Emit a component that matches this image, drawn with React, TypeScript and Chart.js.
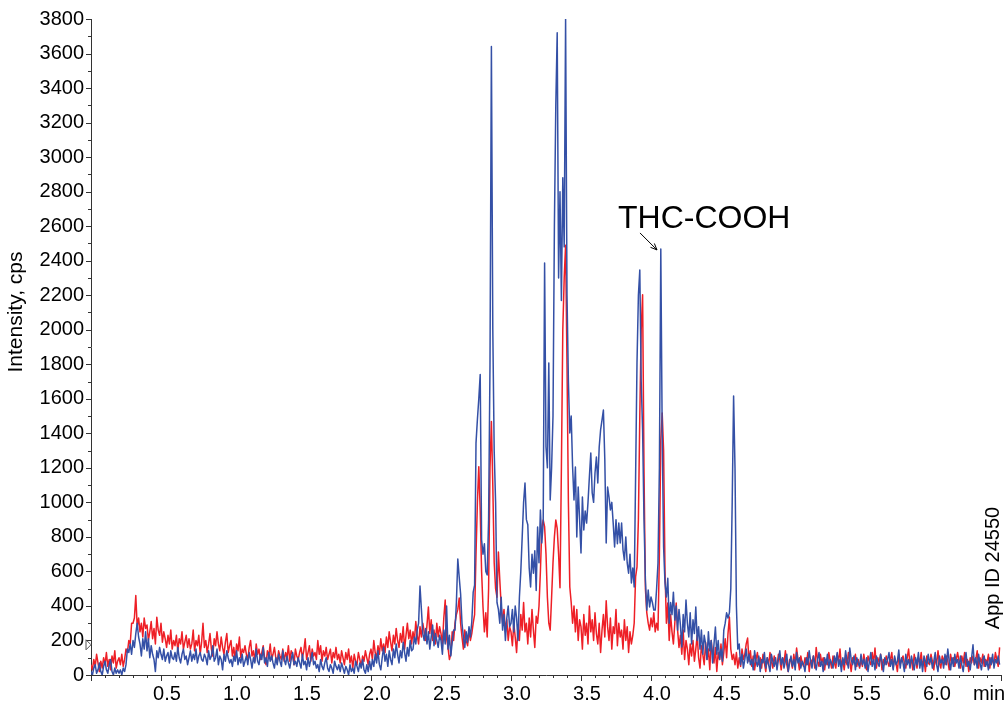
import React, { useEffect, useRef } from "react";
import { Chart, registerables } from "chart.js";

Chart.register(...registerables);

// retention time axis: first sample time and sampling interval (min)
const TIME_START = 0;
const TIME_STEP = 0.01;

const X_MIN = 0;
const X_MAX = 6.5;
const Y_MIN = 0;
const Y_MAX = 3800;

const X_TICK_LABELS = ["0.5", "1.0", "1.5", "2.0", "2.5", "3.0", "3.5", "4.0", "4.5", "5.0", "5.5", "6.0"];
const Y_TICK_LABELS = ["0", "200", "400", "600", "800", "1000", "1200", "1400", "1600", "1800", "2000", "2200", "2400", "2600", "2800", "3000", "3200", "3400", "3600", "3800"];

const Y_TITLE = "Intensity, cps";
const X_UNIT = "min";
const PEAK_LABEL = "THC-COOH";
const PEAK_TIME = 4.05;
const PEAK_VALUE = 2468;
const SIDE_NOTE = "App ID 24550";

// blue trace, one value every 0.01 min from 0.00 to 6.49
const blueIntensity = [
  20, 0, 40, 60, 10, 30, 70, 20, 0, 50,
  80, 30, 10, 60, 90, 20, 0, 40, 10, 30,
  10, 30, 0, 40, 20, 60, 150, 130, 180, 120,
  200, 160, 240, 300, 220, 180, 110, 210, 150, 250,
  140, 210, 100, 170, 120, 90, 20, 140, 100, 160,
  120, 90, 150, 80, 110, 130, 70, 140, 100, 90,
  130, 80, 160, 100, 70, 120, 150, 90, 110, 60,
  100, 140, 80, 120, 90, 150, 70, 110, 130, 90,
  80, 120, 100, 60, 140, 90, 110, 170, 80, 100,
  150, 60, 110, 90, 30, 120, 80, 140, 100, 70,
  90, 50, 110, 80, 140, 60, 100, 70, 120, 50,
  80, 110, 60, 130, 90, 40, 100, 70, 150, 80,
  60, 120, 90, 160, 70, 100, 50, 130, 80, 110,
  70, 40, 100, 60, 120, 80, 50, 140, 90, 60,
  110, 70, 40, 90, 130, 60, 80, 50, 100, 70,
  40, 120, 60, 80, 30, 100, 50, 90, 130, 60,
  80, 40, 60, 20, 90, 50, 30, 70, 100, 40,
  20, 60, 40, 10, 80, 50, 30, 60, 20, 70,
  40, 10, 50, 30, 0, 60, 20, 40, 10, 80,
  50, 20, 70, 40, 90, 30, 10, 60, 20, 80,
  30, 90, 50, 120, 70, 140, 60, 30, 100, 160,
  80, 120, 50, 140, 90, 60, 150, 100, 180, 120,
  70, 140, 100, 190, 130, 80, 160, 110, 200, 140,
  150, 220, 180, 260, 300, 516, 380, 240, 200, 270,
  180, 250, 150, 220, 290, 170, 240, 200, 160, 230,
  200, 120, 260, 180, 400, 150, 230, 110, 190, 260,
  260, 420, 672, 568, 470, 300, 220, 160, 250, 190,
  280, 220, 310, 480, 520, 1343, 1480, 1600, 1740, 782,
  700, 760, 600, 580, 900, 1800, 3640, 2000, 1294, 1000,
  420, 380, 300, 450, 260, 350, 200, 330, 400, 280,
  300, 380, 250, 400, 330, 200, 450, 600, 800, 1000,
  1112, 900, 870, 620, 510, 700, 590, 720, 490, 857,
  650, 956, 765, 880, 2387, 1321, 1200, 1808, 1014, 1200,
  1500, 2600, 3300, 3720, 2300, 2800, 2170, 2880, 2480, 3800,
  2200, 1700, 1402, 1500, 1205, 1014, 1205, 800, 1089, 900,
  707, 1031, 840, 950, 880, 1000, 1150, 1286, 1055, 1000,
  1170, 1263, 1112, 1321, 1420, 1477, 1535, 1250, 765, 1089,
  1031, 956, 1000, 880, 742, 900, 760, 880, 765, 880,
  724, 666, 800, 649, 590, 700, 533, 620, 510, 1147,
  1808, 2200, 2346, 1700, 1420, 900, 550, 376, 492, 394,
  452, 420, 376, 376, 500, 649, 1200, 2468, 1400, 742,
  533, 452, 560, 300, 420, 350, 480, 318, 400, 260,
  380, 290, 162, 350, 250, 434, 300, 220, 360, 180,
  320, 240, 394, 200, 280, 150, 260, 120, 230, 180,
  90, 250, 140, 200, 70, 180, 278, 120, 200, 90,
  150, 80, 260, 300, 360, 330, 360, 500, 1000, 1616,
  1200, 400, 150, 180, 60, 120, 40, 90, 150, 70,
  120, 60, 90, 30, 140, 80, 50, 110, 20, 90,
  70, 130, 40, 100, 60, 20, 120, 80, 50, 100,
  30, 90, 140, 60, 100, 40, 80, 120, 20, 70,
  110, 50, 90, 30, 130, 70, 100, 40, 80, 60,
  20, 100, 60, 140, 80, 40, 110, 70, 30, 90,
  130, 50, 80, 20, 100, 60, 120, 40, 90, 70,
  40, 110, 70, 130, 50, 90, 20, 100, 60, 140,
  80, 40, 156, 90, 60, 110, 30, 100, 70, 50,
  120, 60, 90, 40, 100, 20, 80, 130, 50, 90,
  30, 110, 70, 50, 120, 80, 20, 100, 60, 90,
  130, 50, 90, 30, 110, 60, 80, 145, 40, 100,
  70, 20, 120, 60, 90, 40, 110, 70, 30, 100,
  60, 130, 40, 90, 20, 110, 80, 50, 120, 70,
  100, 40, 80, 130, 60, 20, 110, 70, 90, 40,
  120, 60, 150, 80, 30, 100, 50, 120, 70, 90,
  40, 110, 60, 20, 90, 130, 50, 80, 30, 100,
  175, 60, 100, 40, 120, 70, 30, 90, 110, 50,
  80, 30, 100, 60, 120, 40, 90, 70, 110, 60,
];

// red trace, one value every 0.01 min from 0.00 to 6.49
const redIntensity = [
  60, 30, 90, 50, 120, 70, 20, 80, 40, 100,
  60, 130, 50, 90, 30, 110, 70, 140, 40, 80,
  100, 60, 120, 50, 90, 150, 130, 200, 180, 300,
  300, 330, 460, 280, 330, 250, 300, 220, 330, 270,
  290, 200, 250, 310, 210, 270, 180, 335, 260, 230,
  300, 190, 250, 210, 160, 230, 180, 260, 150, 200,
  170, 230, 140, 210, 180, 250, 150, 190, 230, 160,
  210, 150, 180, 260, 140, 200, 170, 230, 120, 190,
  300, 160, 200, 130, 180, 240, 150, 110, 210, 170,
  250, 180, 140, 220, 160, 120, 190, 240, 130, 170,
  200, 110, 160, 90, 180, 140, 220, 100, 150, 130,
  170, 120, 90, 160, 200, 110, 140, 80, 180, 120,
  150, 90, 130, 170, 100, 60, 140, 110, 180, 90,
  120, 160, 100, 70, 140, 110, 90, 150, 80, 130,
  100, 170, 80, 140, 120, 60, 150, 110, 90, 130,
  160, 100, 140, 210, 90, 130, 170, 80, 150, 110,
  130, 90, 200, 120, 170, 80, 140, 110, 160, 90,
  120, 150, 70, 130, 100, 160, 90, 120, 70, 140,
  100, 60, 130, 90, 150, 70, 110, 40, 120, 80,
  60, 130, 90, 50, 110, 80, 140, 100, 60, 120,
  150, 90, 200, 130, 100, 170, 120, 210, 140, 180,
  130, 220, 160, 250, 190, 140, 230, 180, 270, 200,
  160, 240, 190, 280, 150, 230, 300, 210, 260, 180,
  250, 200, 310, 230, 180, 280, 220, 300, 250, 200,
  290, 394, 240, 320, 200, 260, 180, 300, 220, 280,
  240, 180, 330, 434, 210, 160, 90, 120, 250, 200,
  300, 350, 380, 446, 300, 220, 150, 260, 200, 170,
  260, 200, 240, 300, 350, 700, 1000, 1207, 955, 600,
  394, 250, 360, 220, 500, 1200, 1468, 1100, 650, 500,
  450, 712, 550, 400, 300, 380, 250, 320, 200, 280,
  250, 170, 300, 220, 130, 280, 200, 350, 260, 420,
  250, 300, 180, 330, 220, 380, 260, 160, 340, 300,
  400, 600, 850, 898, 860, 700, 450, 300, 260, 450,
  650, 800, 898, 850, 700, 505, 1200, 2000, 2300, 2490,
  1800, 1000, 510, 420, 300, 400, 250, 380, 200, 320,
  280, 150, 350, 230, 300, 180, 400, 250, 320, 200,
  360, 240, 180, 300, 130, 260, 350, 220, 430, 280,
  200, 330, 150, 280, 240, 380, 170, 300, 220, 260,
  150, 320, 200, 280, 130, 250, 180, 230, 300, 568,
  626, 900, 1500, 2000, 2202, 1188, 500, 360, 300, 260,
  330, 280, 360, 250, 300, 260, 700, 1362, 1518, 1300,
  600, 300, 417, 200, 350, 250, 180, 300, 417, 260,
  160, 230, 120, 260, 90, 200, 150, 60, 180, 110,
  200, 80, 150, 230, 100, 40, 170, 120, 60, 190,
  90, 150, 30, 200, 120, 70, 160, 20, 130, 90,
  180, 60, 130, 210, 100, 240, 336, 150, 90, 120,
  60, 130, 40, 100, 50, 150, 90, 120, 180, 214,
  80, 140, 50, 110, 30, 90, 130, 60, 100, 40,
  120, 70, 20, 100, 60, 130, 80, 40, 110, 70,
  50, 120, 90, 30, 100, 70, 140, 60, 20, 90,
  80, 40, 120, 60, 156, 90, 30, 110, 70, 50,
  100, 60, 130, 20, 90, 70, 110, 40, 160, 80,
  50, 120, 70, 100, 30, 90, 60, 130, 80, 40,
  110, 70, 40, 120, 80, 150, 50, 90, 30, 100,
  60, 130, 80, 20, 100, 70, 120, 50, 90, 40,
  90, 50, 120, 70, 30, 110, 80, 60, 130, 70,
  156, 40, 100, 70, 120, 30, 90, 60, 110, 80,
  50, 90, 130, 40, 100, 70, 20, 120, 60, 90,
  110, 70, 40, 100, 150, 60, 90, 30, 120, 80,
  40, 100, 70, 130, 50, 90, 20, 110, 70, 60,
  120, 80, 30, 100, 60, 140, 70, 40, 110, 90,
  60, 110, 80, 30, 120, 70, 100, 50, 90, 130,
  80, 40, 110, 70, 130, 50, 90, 20, 100, 70,
  110, 60, 90, 140, 40, 100, 70, 120, 50, 90,
  70, 120, 40, 100, 80, 60, 130, 90, 50, 160,
];

const BLUE = "#3450a6";
const RED = "#ee1f26";
const FONT = "'Liberation Sans', Arial, Helvetica, sans-serif";

function toPoints(values: number[]) {
  return values.map((v, i) => ({ x: +(TIME_START + i * TIME_STEP).toFixed(2), y: v }));
}

const decorPlugin = {
  id: "decor",
  afterDraw(chart: any) {
    const ctx = chart.ctx;
    const xs = chart.scales.x;
    const ys = chart.scales.y;
    const area = chart.chartArea;
    ctx.save();
    // tick marks
    ctx.strokeStyle = "#333";
    ctx.lineWidth = 1;
    ctx.beginPath();
    for (let i = 0; i <= Math.round((Y_MAX - Y_MIN) / 100); i++) {
      const v = Y_MIN + i * 100;
      const py = Math.round(ys.getPixelForValue(v)) + 0.5;
      const len = v % 200 === 0 ? 5 : 3;
      ctx.moveTo(area.left - len, py);
      ctx.lineTo(area.left, py);
    }
    for (let i = 0; i <= Math.round((X_MAX - X_MIN) * 10); i++) {
      const v = X_MIN + i * 0.1;
      const px = Math.round(xs.getPixelForValue(v)) + 0.5;
      const len = i % 5 === 0 ? 6 : 3;
      ctx.moveTo(px, area.bottom);
      ctx.lineTo(px, area.bottom + len);
    }
    ctx.stroke();

    // small marker at the left axis
    const my = ys.getPixelForValue(175);
    ctx.strokeStyle = "#555";
    ctx.beginPath();
    ctx.moveTo(area.left - 5, my - 5);
    ctx.lineTo(area.left, my);
    ctx.lineTo(area.left - 5, my + 5);
    ctx.closePath();
    ctx.stroke();

    ctx.fillStyle = "#000";
    // y title
    ctx.save();
    ctx.translate(16, 312);
    ctx.rotate(-Math.PI / 2);
    ctx.font = `21px ${FONT}`;
    ctx.textAlign = "center";
    ctx.textBaseline = "middle";
    ctx.fillText(Y_TITLE, 0, 0);
    ctx.restore();

    // side note
    ctx.save();
    ctx.translate(993, 568);
    ctx.rotate(-Math.PI / 2);
    ctx.font = `20px ${FONT}`;
    ctx.textAlign = "center";
    ctx.textBaseline = "middle";
    ctx.fillText(SIDE_NOTE, 0, 0);
    ctx.restore();

    // unit
    ctx.font = `20px ${FONT}`;
    ctx.textAlign = "center";
    ctx.textBaseline = "middle";
    ctx.fillText(X_UNIT, 989, 694);

    // peak annotation
    const tipX = xs.getPixelForValue(PEAK_TIME) - 1;
    const tipY = ys.getPixelForValue(PEAK_VALUE) + 1;
    ctx.font = `32px ${FONT}`;
    ctx.textAlign = "left";
    ctx.textBaseline = "middle";
    ctx.fillText(PEAK_LABEL, tipX - 39, tipY - 31);
    const sx = tipX - 17;
    const sy = tipY - 17;
    ctx.strokeStyle = "#000";
    ctx.lineWidth = 1;
    ctx.beginPath();
    ctx.moveTo(sx, sy);
    ctx.lineTo(tipX, tipY);
    ctx.stroke();
    const ang = Math.atan2(tipY - sy, tipX - sx);
    ctx.beginPath();
    ctx.moveTo(tipX, tipY);
    ctx.lineTo(tipX - 7 * Math.cos(ang - 0.4), tipY - 7 * Math.sin(ang - 0.4));
    ctx.moveTo(tipX, tipY);
    ctx.lineTo(tipX - 7 * Math.cos(ang + 0.4), tipY - 7 * Math.sin(ang + 0.4));
    ctx.stroke();
    ctx.restore();
  },
};

export default function App() {
  const ref = useRef<HTMLCanvasElement | null>(null);
  useEffect(() => {
    if (!ref.current) return;
    const chart = new Chart(ref.current, {
      type: "line",
      data: {
        datasets: [
          {
            label: "blue",
            data: toPoints(blueIntensity),
            borderColor: BLUE,
            borderWidth: 1.5,
            pointRadius: 0,
            borderJoinStyle: "round",
            tension: 0,
            fill: false,
          },
          {
            label: "red",
            data: toPoints(redIntensity),
            borderColor: RED,
            borderWidth: 1.5,
            pointRadius: 0,
            borderJoinStyle: "round",
            tension: 0,
            fill: false,
          },
        ],
      },
      plugins: [decorPlugin],
      options: {
        responsive: false,
        animation: false,
        devicePixelRatio: 1,
        parsing: false,
        normalized: true,
        layout: { padding: { left: 0, top: 19, right: 5, bottom: 0 } },
        plugins: {
          legend: { display: false },
          tooltip: { enabled: false },
        },
        scales: {
          x: {
            type: "linear",
            min: X_MIN,
            max: X_MAX,
            afterFit(scale: any) {
              scale.height = 32;
            },
            grid: { display: false, drawTicks: true, tickLength: 4 },
            border: { display: true, color: "#333", width: 1 },
            ticks: {
              stepSize: 0.5,
              autoSkip: false,
              maxRotation: 0,
              padding: 3,
              labelOffset: 6,
              color: "#000",
              font: { family: FONT, size: 20 },
              callback(value: any) {
                const k = Math.round(Number(value) * 10);
                const label = (k / 10).toFixed(1);
                return X_TICK_LABELS.includes(label) ? label : "";
              },
            },
          },
          y: {
            type: "linear",
            min: Y_MIN,
            max: Y_MAX,
            afterFit(scale: any) {
              scale.width = 91;
            },
            grid: { display: false, drawTicks: true, tickLength: 4 },
            border: { display: true, color: "#333", width: 1 },
            ticks: {
              stepSize: 200,
              autoSkip: false,
              padding: 3,
              color: "#000",
              font: { family: FONT, size: 20 },
              callback(value: any) {
                const label = String(Math.round(Number(value)));
                return Y_TICK_LABELS.includes(label) ? label : "";
              },
            },
          },
        },
      },
    });
    return () => chart.destroy();
  }, []);
  return (
    <div style={{ position: "fixed", left: 0, top: 0, width: 1006, height: 707, background: "#fff" }}>
      <canvas ref={ref} width={1006} height={707} style={{ display: "block" }} />
    </div>
  );
}
